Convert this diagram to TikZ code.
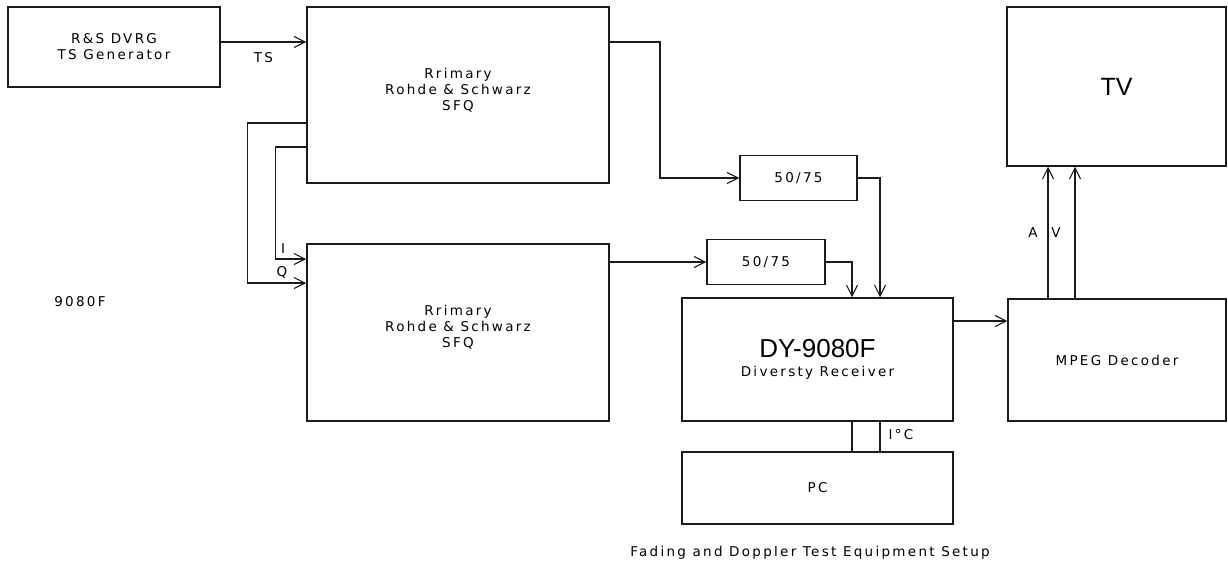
\documentclass[tikz,border=0pt]{standalone}
\usepackage{fontspec}
\setmainfont{DejaVu Sans}[LetterSpace=17]
\newfontfamily\bigfont{Liberation Sans}
\usepackage{tikz}
\usetikzlibrary{positioning,calc,arrows.meta}
\definecolor{InkBlack}{HTML}{1A1A1A}

\tikzset{
  unit/.style n args={2}{draw=InkBlack, line width=1.5pt, minimum width=#1, minimum height=#2,
        inner sep=0pt, align=center, font=\fontsize{13.5}{16}\selectfont},
  wire/.style={draw=InkBlack, line width=1.5pt},
  feed/.style={wire, -{Straight Barb[length=11pt,width=11pt,line width=1.1pt]}},
  tag/.style={inner sep=0pt, font=\fontsize{13.5}{15}\selectfont}
}

\begin{document}
\begin{tikzpicture}[x=1pt,y=-1pt]
  \useasboundingbox (0,0) rectangle (1228,565);

  \node[unit={212pt}{80pt}] (gen) at (114,47) {R\&S DVRG\\TS Generator};
  \node[unit={302pt}{176pt}] (sfqa) at (458,95) {Rrimary\\Rohde \& Schwarz\\SFQ\\[-4pt]\mbox{}};
  \node[unit={302pt}{177pt}] (sfqb) at (458,332.5) {Rrimary\\Rohde \& Schwarz\\SFQ\\[-4pt]\mbox{}};
  \node[unit={117pt}{45pt}] (pada) at (798.5,178) {50/75};
  \node[unit={118pt}{45pt}] (padb) at (766,262) {50/75};
  \node[unit={271pt}{123pt}] (dy) at (817.5,359.5)
    {{\bigfont\fontsize{26}{28}\selectfont DY-9080F}\\[3pt]Diversty Receiver};
  \node[unit={271pt}{72pt}] (pc) at (817.5,488) {PC};
  \node[unit={218pt}{122pt}] (mpeg) at (1117,360) {MPEG Decoder};
  \node[unit={219pt}{159pt}] (tv) at (1116.5,86.5) {\bigfont\fontsize{25}{28}\selectfont TV};

  \draw[feed] ([yshift=5pt]gen.east) -- ([yshift=5pt]gen.east -| sfqa.west)
    node[tag, midway, below=10pt] {TS};
  \draw[feed] ([yshift=53pt]sfqa.east) -- ++(50,0) |- (pada.west);
  \draw[feed] (pada.east) -| ([xshift=62.5pt]dy.north);
  \draw[feed] (sfqb.east |- padb.west) -- (padb.west);
  \draw[feed] (padb.east) -| ([xshift=34.5pt]dy.north);
  \draw[feed] ([yshift=-28pt]sfqa.west) -- ++(-59,0) |- ([yshift=49.5pt]sfqb.west);
  \draw[feed] ([yshift=-52pt]sfqa.west) -- ++(-31,0) |- ([yshift=73.5pt]sfqb.west);
  \draw[feed] ([yshift=38.5pt]dy.east) -- ([yshift=38.5pt]dy.east -| mpeg.west);
  \draw[feed] ([xshift=-69pt]mpeg.north) -- ([xshift=-69pt]mpeg.north |- tv.south);
  \draw[feed] ([xshift=-42pt]mpeg.north) -- ([xshift=-42pt]mpeg.north |- tv.south);
  \draw[wire] ([xshift=34.5pt]dy.south) -- ([xshift=34.5pt]pc.north);
  \draw[wire] ([xshift=62.5pt]dy.south) -- ([xshift=62.5pt]pc.north);

  \node[tag] (ilbl) at (283,249) {I};
  \node[tag] (qlbl) at (282,272) {Q};
  \node[tag] (albl) at (1033,233) {A};
  \node[tag] (vlbl) at (1056,233) {V};
  \node[tag] (busl) at (901,435) {I°C};
  \node[tag] (model) at (80,302) {9080F};
  \node[tag] (caption) at (810,553) {Fading and Doppler Test Equipment Setup};
\end{tikzpicture}
\end{document}
